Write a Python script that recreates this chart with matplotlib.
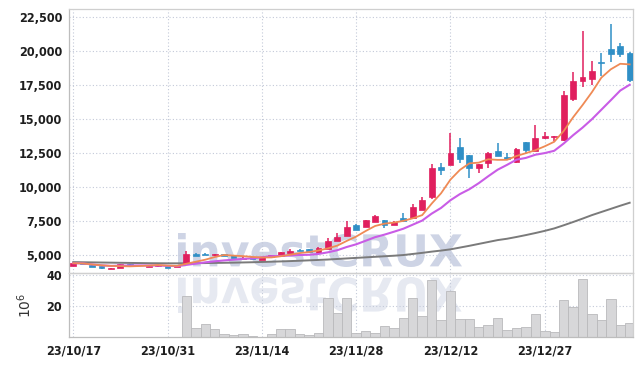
import numpy as np
import pandas as pd
import matplotlib
matplotlib.use("Agg")
import matplotlib.pyplot as plt
from matplotlib.textpath import TextPath
from matplotlib.patches import PathPatch
from matplotlib.transforms import Affine2D
from matplotlib.font_manager import FontProperties
from matplotlib.ticker import FuncFormatter

# trading days 2023-10-17 .. 2024-01-11 (KRX holidays removed)
dates = pd.bdate_range("2023-10-17", "2024-01-11")
dates = dates[~dates.isin(pd.to_datetime(["2023-12-25", "2023-12-29", "2024-01-01"]))]

opens = [4230, 4400, 4260, 4190, 4000, 4070, 4320, 4250, 4130, 4170, 4210, 4110,
         4330, 5050, 5060, 4970, 5080, 4980, 4720, 4830, 4650, 4840, 4940, 5180,
         5380, 5450, 5130, 5470, 6040, 6430, 7220, 7090, 7460, 7560, 7240, 7730,
         7750, 8320, 9300, 11450, 11630, 12960, 12350, 11390, 11760, 12670, 12200, 11880,
         13310, 12660, 13620, 13680, 13480, 16520, 17790, 17940, 19200, 20150, 20390, 19880]
highs = [4420, 4430, 4280, 4200, 4060, 4330, 4340, 4290, 4230, 4280, 4230, 4220,
         5290, 5120, 5180, 5090, 5100, 5000, 4820, 4850, 4890, 4990, 5260, 5420,
         5420, 5480, 5560, 6220, 6600, 7500, 7250, 7600, 7920, 7600, 7500, 8070,
         8730, 9290, 11700, 11750, 13960, 13590, 12380, 11720, 12550, 13270, 12530, 12870,
         13330, 14550, 14030, 13780, 17070, 18500, 21490, 19280, 19900, 22000, 20620, 19920]
lows = [4200, 4350, 4120, 3980, 3980, 4050, 4280, 4230, 4110, 4150, 4050, 4090,
        4310, 4900, 4980, 4950, 4940, 4760, 4680, 4680, 4640, 4820, 4920, 5170,
        5280, 5220, 5100, 5450, 6000, 6400, 6820, 7060, 7440, 6960, 7200, 7430,
        7730, 8280, 9100, 10890, 11600, 11750, 10640, 11060, 11400, 12280, 12050, 11800,
        12530, 12640, 13510, 13410, 13400, 16360, 17340, 17510, 18180, 19220, 19600, 17750]
closes = [4400, 4370, 4150, 4050, 4040, 4310, 4290, 4270, 4210, 4260, 4080, 4200,
          5050, 4960, 5000, 5060, 4960, 4800, 4780, 4700, 4870, 4970, 5240, 5320,
          5330, 5250, 5530, 6020, 6340, 7060, 6850, 7560, 7880, 7200, 7460, 7470,
          8520, 9040, 11420, 11280, 12520, 12080, 11440, 11690, 12520, 12300, 12100, 12840,
          12740, 13600, 13750, 13760, 16770, 17800, 18100, 18530, 19100, 19830, 19830, 17880]
# volume in millions
volumes = [0, 0, 0, 0, 0, 0, 0, 0, 0, 0, 0, 0,
           26.3, 5.8, 8.5, 5.2, 2.0, 1.4, 2.0, 0.8, 0.5, 2.0, 5.2, 5.2,
           2.0, 1.4, 2.9, 25.2, 16.0, 25.2, 2.9, 4.1, 2.9, 7.5, 5.8, 12.8,
           25.2, 14.0, 36.8, 11.5, 30.0, 12.1, 12.1, 6.4, 7.7, 12.8, 4.7, 6.0,
           6.4, 15.3, 4.1, 3.5, 24.2, 19.5, 37.5, 15.3, 10.9, 24.8, 7.7, 9.6]
# long moving average (needs history before the window)
ma_long = [4480, 4470, 4460, 4450, 4440, 4430, 4420, 4410, 4400, 4395, 4390, 4390,
           4395, 4400, 4410, 4420, 4430, 4440, 4455, 4470, 4490, 4510, 4530, 4555,
           4580, 4610, 4640, 4670, 4710, 4750, 4790, 4830, 4870, 4910, 4950, 5000,
           5080, 5160, 5250, 5330, 5420, 5550, 5680, 5820, 5960, 6100, 6200, 6330,
           6470, 6620, 6780, 6960, 7190, 7430, 7680, 7940, 8170, 8400, 8630, 8850]

df = pd.DataFrame({"Open": opens, "High": highs, "Low": lows, "Close": closes,
                   "Volume": volumes, "MA60": ma_long}, index=dates)
df["MA5"] = df["Close"].rolling(5, min_periods=1).mean()
df["MA10"] = df["Close"].rolling(10, min_periods=1).mean()

UP = "#e01f5e"
DOWN = "#2f8fc6"
GRID = "#c3c9d8"
TICKFONT = FontProperties(family="DejaVu Sans", weight="bold", stretch="condensed", size=9)

fig = plt.figure(figsize=(6.43, 3.66), dpi=100)
ax = fig.add_axes([0.1073, 0.2549, 0.8771, 0.7205])
axv = fig.add_axes([0.1073, 0.0779, 0.8771, 0.1770], sharex=ax)
ax.set_facecolor("none")
axv.set_facecolor("none")

# watermark with reflection
tp = TextPath((0, 0), "investCRUX", size=1, prop=FontProperties(family="DejaVu Sans", weight="bold"))
ext = tp.get_extents()
sx = 2.84 / ext.width
wm = Affine2D().translate(-ext.x0, -ext.y0).scale(sx, 0.34 / ext.height).translate(1.78, 0.99)
fig.add_artist(PathPatch(tp, facecolor="#ced4e5", edgecolor="none", zorder=-2,
                         transform=wm + fig.dpi_scale_trans))
wr = Affine2D().translate(-ext.x0, -ext.y0).scale(sx, -0.36 / ext.height).translate(1.78, 0.89)
fig.add_artist(PathPatch(tp, facecolor="#e6e9f1", edgecolor="none", zorder=-2,
                         transform=wr + fig.dpi_scale_trans))

x = np.arange(len(df))
up = df["Close"] >= df["Open"]
colors = np.where(up, UP, DOWN)
body_lo = np.minimum(df["Open"], df["Close"])
body_h = np.maximum((df["Close"] - df["Open"]).abs(), 45)

ax.vlines(x, df["Low"], df["High"], colors=colors, lw=1.1, zorder=3)
ax.bar(x, body_h, bottom=body_lo, width=0.62, color=colors, edgecolor=colors, lw=0.5, zorder=4)
ax.plot(x, df["MA60"], color="#7a7a7a", lw=1.4, zorder=2)
ax.plot(x, df["MA10"], color="#c95ce6", lw=1.5, zorder=5)
ax.plot(x, df["MA5"], color="#ef8a55", lw=1.3, zorder=6)

axv.bar(x, df["Volume"], width=1.0, color="#d7d7d9", edgecolor="#b9b9bc", lw=0.6, zorder=2)

ax.set_xlim(-0.45, 59.35)
ax.set_ylim(3700, 23110)
axv.set_ylim(0, 41.5)

ax.set_yticks(np.arange(5000, 22501, 2500))
ax.yaxis.set_major_formatter(FuncFormatter(lambda v, p: f"{int(v):,}"))
axv.set_yticks([20, 40])

tick_pos = x[::10]
tick_labels = [d.strftime("%y/%m/%d") for d in dates[::10]]
axv.set_xticks(tick_pos)
axv.set_xticklabels(tick_labels)
axv.set_ylabel(r"$10^6$", fontsize=10, color="#333333", labelpad=9)

for a in (ax, axv):
    a.grid(True, color=GRID, linestyle=(0, (1, 2)), lw=0.8, zorder=0)
    a.set_axisbelow(True)
    a.tick_params(length=0, pad=5, labelcolor="#1e1e1e")
    for s in a.spines.values():
        s.set_color("#cfcfcf")
        s.set_linewidth(0.9)
    for lab in a.get_yticklabels() + a.get_xticklabels():
        lab.set_fontproperties(TICKFONT)
ax.tick_params(labelbottom=False)
ax.spines["left"].set_color("#bdbdbd")
axv.spines["left"].set_color("#bdbdbd")
axv.spines["bottom"].set_color("#bdbdbd")

fig.savefig("out.png", dpi=100)
